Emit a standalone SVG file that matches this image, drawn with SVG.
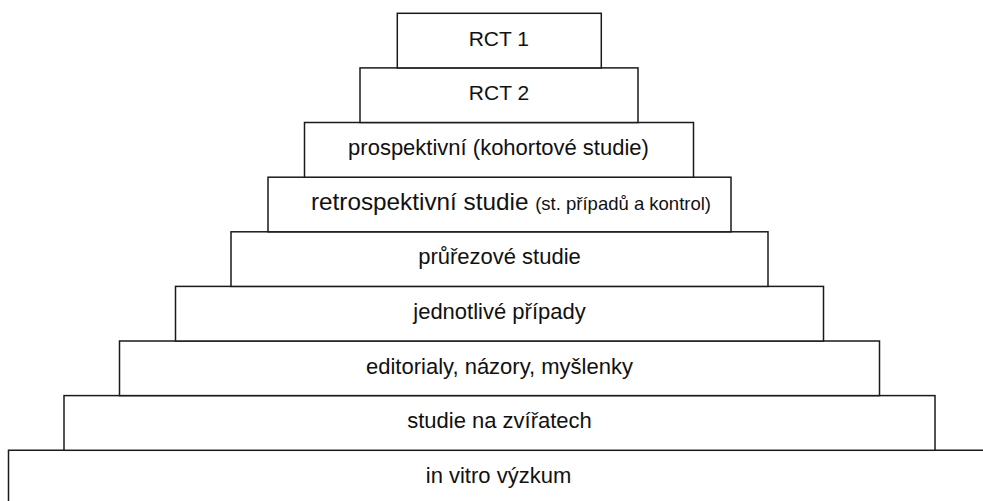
<svg xmlns="http://www.w3.org/2000/svg" width="983" height="501" viewBox="0 0 983 501">
<style>
.box{fill:#fff;stroke:#1a1a1a;stroke-width:1.5}
.lbl{font-family:"Liberation Sans",Arial,Helvetica,sans-serif;font-size:22px;fill:#111;text-anchor:middle}
.cap{font-size:21px}
.big{font-size:24.3px}
.sm{font-size:18.5px}
</style>
<rect width="983" height="501" fill="#fff"/>
<g id="n9">
<path class="box" d="M8.5,501 V450.3 H983"/>
<text class="lbl" x="498.5" y="482.8">in vitro výzkum</text>
</g>
<g id="n8">
<rect class="box" x="64" y="395.6" width="871" height="54.7"/>
<text class="lbl" x="499.5" y="428.1">studie na zvířatech</text>
</g>
<g id="n7">
<rect class="box" x="119.5" y="341" width="760" height="54.6"/>
<text class="lbl" x="499.5" y="373.5">editorialy, názory, myšlenky</text>
</g>
<g id="n6">
<rect class="box" x="175.5" y="286.4" width="648" height="54.6"/>
<text class="lbl" x="499.5" y="318.9">jednotlivé případy</text>
</g>
<g id="n5">
<rect class="box" x="231" y="231.8" width="537" height="54.6"/>
<text class="lbl" x="499.5" y="264.3">průřezové studie</text>
</g>
<g id="n4">
<rect class="box" x="268" y="177.2" width="463" height="54.6"/>
<text class="lbl big" x="511" y="209.9">retrospektivní studie <tspan class="sm">(st. případů a kontrol)</tspan></text>
</g>
<g id="n3">
<rect class="box" x="304.5" y="122.5" width="389" height="54.7"/>
<text class="lbl" x="498.5" y="155">prospektivní (kohortové studie)</text>
</g>
<g id="n2">
<rect class="box" x="360" y="67.9" width="278" height="54.6"/>
<text class="lbl cap" x="499" y="100.4">RCT 2</text>
</g>
<g id="n1">
<rect class="box" x="397.3" y="13.3" width="204" height="54.6"/>
<text class="lbl cap" x="498.8" y="45.8">RCT 1</text>
</g>
<g id="connectors"/>
</svg>
